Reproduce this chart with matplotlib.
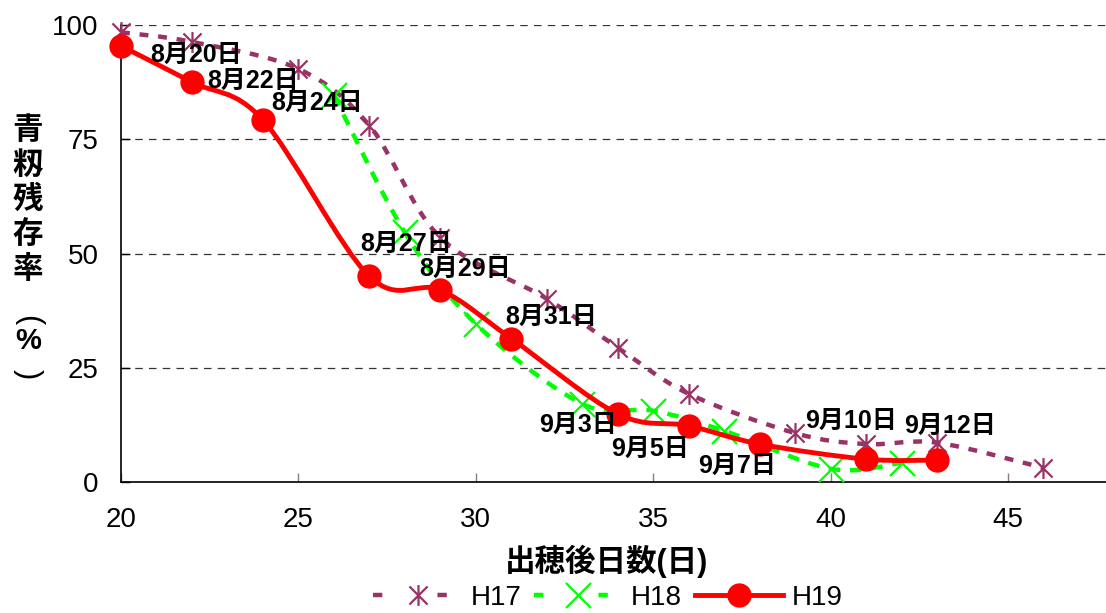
import numpy as np
import matplotlib.pyplot as plt
from matplotlib.path import Path
from matplotlib.patches import PathPatch
from matplotlib.lines import Line2D

plt.rcParams['font.family'] = ['Liberation Sans', 'Noto Sans CJK JP']

# green grain ratio (%) against days after heading
h17_days = [20, 22, 25, 27, 29, 32, 34, 36, 39, 41, 43, 46]
h17_rate = [98.4, 96.3, 90.4, 78.0, 53.5, 40.1, 29.4, 19.3, 10.7, 8.3, 8.6, 3.1]

h18_days = [26, 28, 30, 33, 35, 37, 40, 42]
h18_rate = [84.6, 54.6, 34.6, 17.1, 15.6, 11.2, 2.9, 4.2]

h19_days = [20, 22, 24, 27, 29, 31, 34, 36, 38, 41, 43]
h19_rate = [95.4, 87.5, 79.2, 45.0, 42.0, 31.4, 14.9, 12.3, 8.3, 5.0, 4.8]
h19_dates = ['8月20日', '8月22日', '8月24日', '8月27日', '8月29日', '8月31日',
             '9月3日', '9月5日', '9月7日', '9月10日', '9月12日']

x_ticks = [20, 25, 30, 35, 40, 45]
y_ticks = [0, 25, 50, 75, 100]
series_names = ['H17', 'H18', 'H19']

# where each date label sits relative to its point (pixels)
date_offsets = [(75, -9), (61, 1), (54, 17), (37, 32), (25, 21), (40, 22),
                (-40, -11), (-39, -23), (-23, -22), (-15, 38), (13, 34)]

PURPLE = '#993366'
GREEN = '#00ff00'
RED = '#ff0000'

# asterisk marker: an X with a vertical bar through it
star = Path([(-1, -1), (1, 1), (-1, 1), (1, -1), (0, -1.15), (0, 1.15)],
            [Path.MOVETO, Path.LINETO, Path.MOVETO, Path.LINETO, Path.MOVETO, Path.LINETO])


def smooth_path(xs, ys):
    # cubic bezier through every point (catmull-rom style control points)
    pts = np.column_stack([xs, ys]).astype(float)
    n = len(pts)
    verts = [pts[0]]
    codes = [Path.MOVETO]
    for i in range(n - 1):
        p0 = pts[max(i - 1, 0)]
        p1 = pts[i]
        p2 = pts[i + 1]
        p3 = pts[min(i + 2, n - 1)]
        verts += [p1 + (p2 - p0) / 6, p2 - (p3 - p1) / 6, p2]
        codes += [Path.CURVE4] * 3
    return Path(verts, codes)


fig = plt.figure(figsize=(11.06, 6.13), dpi=100)
ax = fig.add_axes([121 / 1106, 1 - 482 / 613, 1 - 121 / 1106, (482 - 25) / 613])

# H17
ax.add_patch(PathPatch(smooth_path(h17_days, h17_rate), fill=False, edgecolor=PURPLE,
                       lw=3.2, linestyle=(0, (2.0, 2.2)), capstyle='butt', zorder=3, clip_on=False))
ax.plot(h17_days, h17_rate, ls='none', marker=star, ms=15, mew=1.6, mec=PURPLE,
        zorder=4, clip_on=False)

# H18
ax.add_patch(PathPatch(smooth_path(h18_days, h18_rate), fill=False, edgecolor=GREEN,
                       lw=3.2, linestyle=(0, (2.6, 2.2)), capstyle='butt', zorder=3, clip_on=False))
ax.plot(h18_days, h18_rate, ls='none', marker='x', ms=18, mew=1.6, mec=GREEN,
        zorder=4, clip_on=False)

# H19
ax.add_patch(PathPatch(smooth_path(h19_days, h19_rate), fill=False, edgecolor=RED,
                       lw=3.5, zorder=5, clip_on=False))
ax.plot(h19_days, h19_rate, ls='none', marker='o', ms=16.5, mfc=RED, mec=RED,
        zorder=6, clip_on=False)

for d, r, lab, off in zip(h19_days, h19_rate, h19_dates, date_offsets):
    ax.annotate(lab, (d, r), xytext=off, textcoords='offset pixels', ha='center',
                va='center', fontsize=18, fontweight='bold', zorder=10)

ax.set_xlim(20, 20 + (1106 - 121) / 35.48)
ax.set_ylim(0, 100)
ax.set_xticks(x_ticks)
ax.set_yticks(y_ticks)
ax.yaxis.grid(True, color='#333333', linestyle=(0, (6, 5)), lw=0.9)
ax.set_axisbelow(True)

for s in ['top', 'right']:
    ax.spines[s].set_visible(False)
for s in ['left', 'bottom']:
    ax.spines[s].set_linewidth(1.2)
    ax.spines[s].set_zorder(2.5)

ax.tick_params(axis='y', direction='in', length=6.5, width=1, color='black',
               labelsize=20, pad=16)
ax.tick_params(axis='x', direction='in', length=6.5, width=1, color='#808080',
               labelsize=20, pad=18)

fig.text(607 / 1106, 1 - 561 / 613, '出穂後日数(日)', ha='center', va='center',
         fontsize=22, fontweight='bold')

# vertical y label, one character per line
for ch, yp in zip('青籾残存率', [131, 166, 200, 235, 270]):
    fig.text(28 / 1106, 1 - yp / 613, ch, ha='center', va='center', fontsize=22,
             fontweight='bold')
fig.text(28 / 1106, 1 - 320 / 613, '(', ha='center', va='center', fontsize=22,
         rotation=-90)
fig.text(28 / 1106, 1 - 341 / 613, '%', ha='center', va='center', fontsize=21,
         fontweight='bold')
fig.text(28 / 1106, 1 - 374 / 613, ')', ha='center', va='center', fontsize=22,
         rotation=-90)

handles = [
    Line2D([], [], color=PURPLE, lw=3.2, linestyle=(0, (2.1, 12.4)), marker=star, ms=15,
           mew=1.6, mec=PURPLE),
    Line2D([], [], color=GREEN, lw=3.2, linestyle=(0, (2.1, 12.4)), marker='x', ms=18,
           mew=1.6, mec=GREEN),
    Line2D([], [], color=RED, lw=3.5, marker='o', ms=16.5, mfc=RED, mec=RED),
]
fig.legend(handles, series_names, loc='center', bbox_to_anchor=(608 / 1106, 1 - 598 / 613),
           ncol=3, frameon=False, fontsize=20, handlelength=3.2, handletextpad=0.3,
           columnspacing=0.45, numpoints=1, borderpad=0.1)

fig.savefig('out.png', dpi=100)
